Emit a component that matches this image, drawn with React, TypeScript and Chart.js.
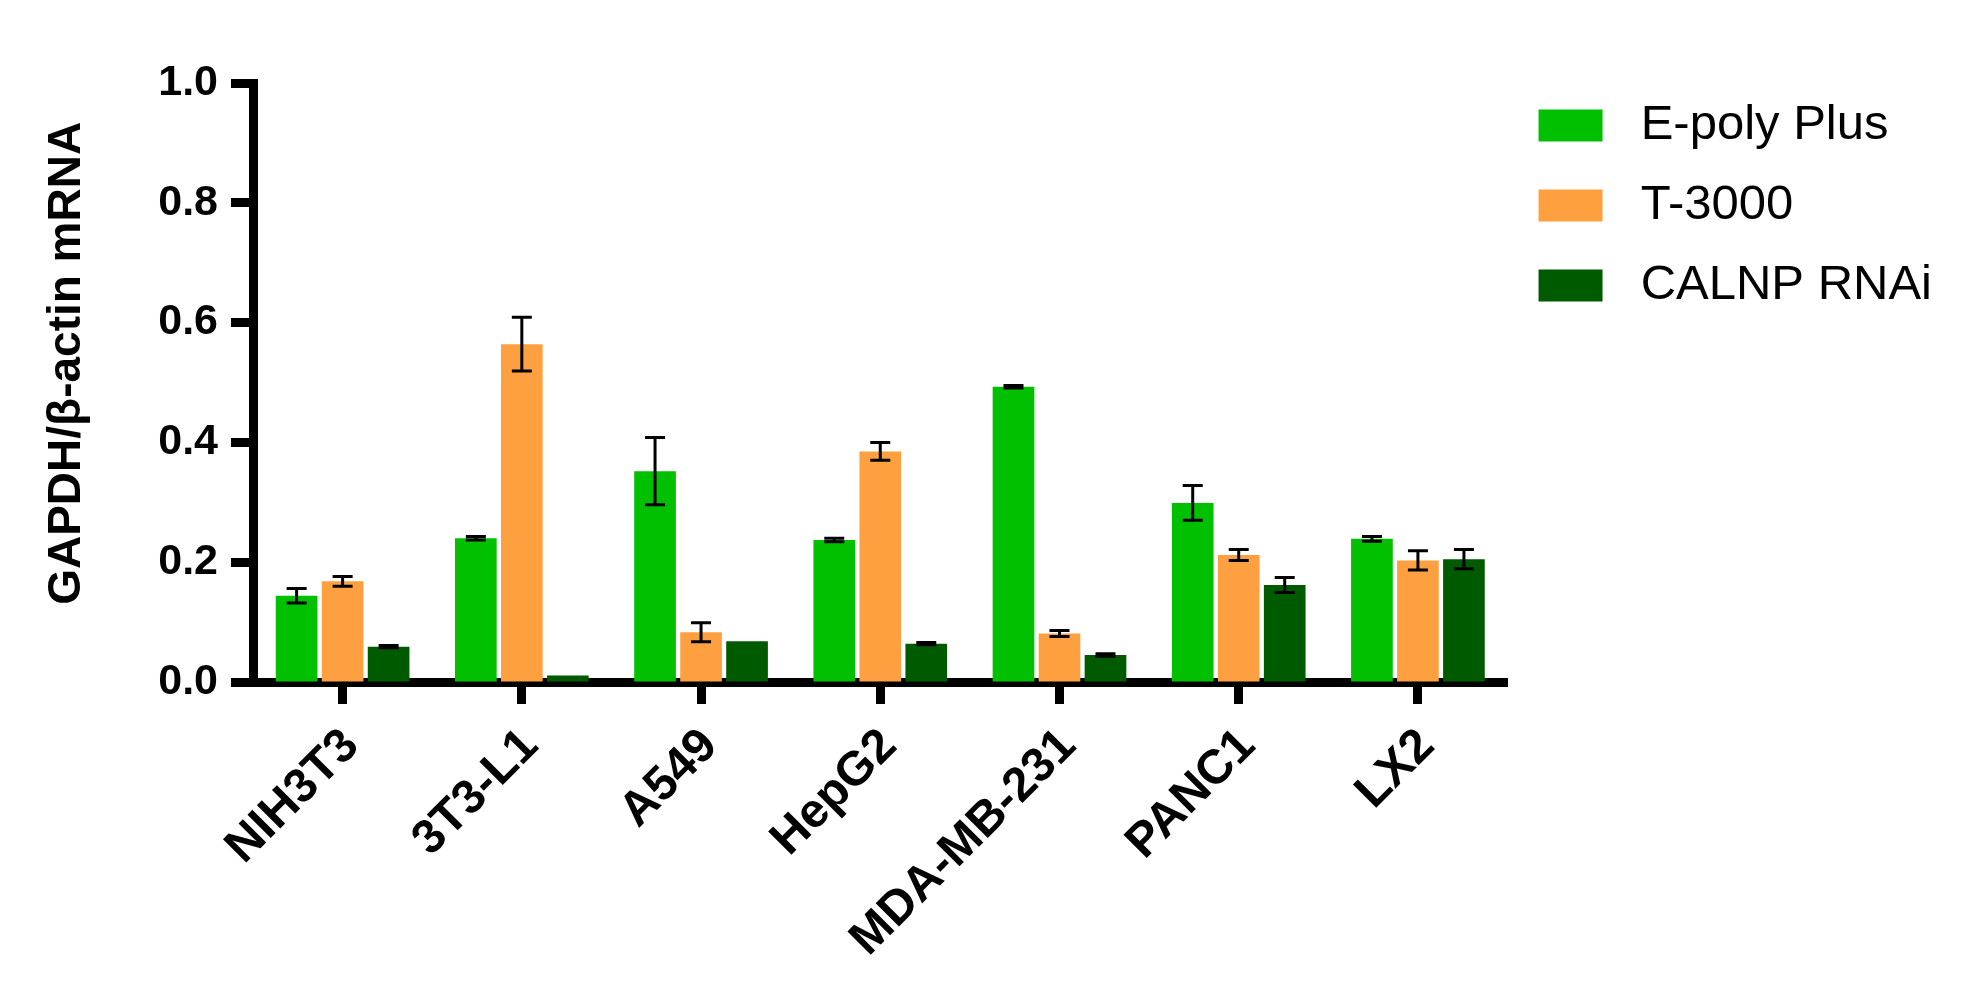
import React, { useEffect, useRef } from 'react';
import { Chart, registerables } from 'chart.js';

Chart.register(...registerables);

const categories = ['NIH3T3', '3T3-L1', 'A549', 'HepG2', 'MDA-MB-231', 'PANC1', 'LX2'];
const seriesNames = ['E-poly Plus', 'T-3000', 'CALNP RNAi'];
const seriesColors = ['#00C000', '#FFA040', '#005A00'];

const epolyValues = [0.144, 0.240, 0.352, 0.237, 0.493, 0.299, 0.239];
const epolyErrors = [0.012, 0.003, 0.056, 0.003, 0.002, 0.029, 0.004];
const t3000Values = [0.168, 0.564, 0.083, 0.385, 0.081, 0.212, 0.203];
const t3000Errors = [0.008, 0.045, 0.016, 0.015, 0.005, 0.009, 0.016];
const calnpValues = [0.059, 0.011, 0.068, 0.064, 0.045, 0.162, 0.205];
const calnpErrors = [0.002, 0, 0, 0.002, 0.002, 0.0125, 0.016];

const yTickLabels = ['0.0', '0.2', '0.4', '0.6', '0.8', '1.0'];
const yTitle = 'GAPDH/β-actin mRNA';

const FONT = '"Liberation Sans", Arial, Helvetica, sans-serif';

const errorBarPlugin = {
  id: 'errorBars',
  afterDatasetsDraw(chart: any) {
    const ctx = chart.ctx;
    const yScale = chart.scales.y;
    chart.data.datasets.forEach((ds: any, i: number) => {
      const meta = chart.getDatasetMeta(i);
      meta.data.forEach((bar: any, j: number) => {
        const v = ds.data[j];
        const e = ds.errors[j];
        if (!e) return;
        const x = bar.x;
        const yt = yScale.getPixelForValue(v + e);
        const yb = yScale.getPixelForValue(v - e);
        const cap = 10;
        ctx.save();
        ctx.strokeStyle = '#000';
        ctx.lineWidth = 3;
        ctx.beginPath();
        ctx.moveTo(x, yt);
        ctx.lineTo(x, yb);
        ctx.moveTo(x - cap, yt);
        ctx.lineTo(x + cap, yt);
        ctx.moveTo(x - cap, yb);
        ctx.lineTo(x + cap, yb);
        ctx.stroke();
        ctx.restore();
      });
    });
  },
};

export default function App() {
  const canvasRef = useRef<HTMLCanvasElement | null>(null);

  useEffect(() => {
    if (!canvasRef.current) return;
    const values = [epolyValues, t3000Values, calnpValues];
    const errors = [epolyErrors, t3000Errors, calnpErrors];
    const defaultLabels = (Chart.defaults as any).plugins.legend.labels.generateLabels;
    const chart = new Chart(canvasRef.current, {
      type: 'bar',
      data: {
        labels: categories,
        datasets: seriesNames.map((name, i) => ({
          label: name,
          data: values[i],
          errors: errors[i],
          backgroundColor: seriesColors[i],
          borderWidth: 0,
          categoryPercentage: 0.77,
          barPercentage: 0.906,
          xAxisID: 'x',
          yAxisID: 'y',
        })) as any,
      },
      options: {
        animation: false,
        responsive: true,
        maintainAspectRatio: false,
        devicePixelRatio: 1,
        layout: { padding: { top: 70, left: 0, right: 36, bottom: 0 } },
        plugins: {
          legend: {
            position: 'right',
            align: 'start',
            labels: {
              boxWidth: 64,
              boxHeight: 32,
              padding: 31,
              color: '#000',
              font: { family: FONT, size: 49, weight: 'normal' },
              generateLabels: (c: any) =>
                defaultLabels(c).map((l: any) => ({ ...l, text: ' ' + l.text })),
            },
          },
          tooltip: { enabled: false },
        },
        scales: {
          xTop: {
            type: 'category',
            position: 'top',
            display: true,
            grid: { display: false },
            border: { display: false },
            ticks: { display: false },
            afterFit: (s: any) => { s.height = 13; },
          },
          x: {
            type: 'category',
            position: 'bottom',
            offset: true,
            grid: {
              display: true,
              drawOnChartArea: false,
              drawTicks: true,
              tickLength: 22,
              tickWidth: 9,
              tickColor: '#000',
              offset: false,
            },
            border: { display: true, width: 9, color: '#000' },
            ticks: {
              color: '#000',
              autoSkip: false,
              maxRotation: 45,
              minRotation: 45,
              padding: 14,
              labelOffset: 9,
              font: { family: FONT, size: 48, weight: 'bold' },
            },
            afterFit: (s: any) => { s.height = 308; },
          },
          y: {
            min: 0,
            max: 1,
            grid: {
              display: true,
              drawOnChartArea: false,
              drawTicks: true,
              tickLength: 22,
              tickWidth: 9,
              tickColor: '#000',
            },
            border: { display: true, width: 9, color: '#000' },
            ticks: {
              stepSize: 0.2,
              color: '#000',
              padding: 13,
              font: { family: FONT, size: 43, weight: 'bold' },
              callback: (_v: any, i: number) => yTickLabels[i],
            },
            title: {
              display: true,
              text: '   ' + yTitle,
              color: '#000',
              padding: { top: 40, bottom: 0 },
              font: { family: FONT, size: 46, weight: 'bold' },
            },
            afterFit: (s: any) => { s.width = 253; },
          },
        },
      } as any,
      plugins: [errorBarPlugin],
    });
    return () => chart.destroy();
  }, []);

  return (
    <div style={{ position: 'fixed', left: 0, top: 0, width: 1978, height: 990, background: '#fff' }}>
      <canvas ref={canvasRef} />
    </div>
  );
}
